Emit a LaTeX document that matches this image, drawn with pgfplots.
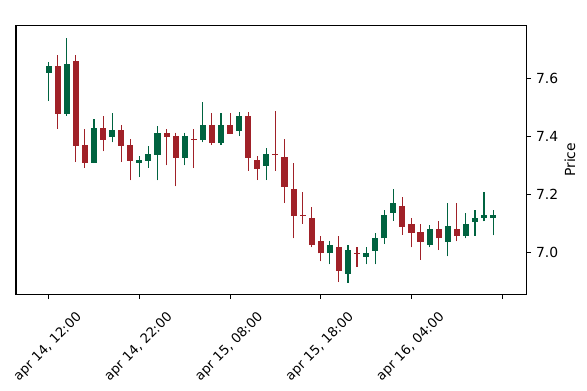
\documentclass[border=0pt]{standalone}
\usepackage{fontspec}
\setmainfont{DejaVu Sans}
\usepackage{pgfplots}
\pgfplotsset{compat=1.18}
\usepackage{pgfplotstable}
\definecolor{cup}{HTML}{006340}
\definecolor{cdn}{HTML}{A02128}

\pgfplotstableread{
i O H L C
0 7.621 7.659 7.523 7.644
2 7.479 7.743 7.472 7.652
5 7.310 7.460 7.309 7.429
7 7.399 7.481 7.380 7.424
10 7.310 7.329 7.260 7.320
11 7.317 7.369 7.293 7.340
12 7.338 7.437 7.249 7.412
15 7.328 7.411 7.301 7.402
17 7.388 7.521 7.380 7.440
19 7.378 7.481 7.371 7.440
21 7.420 7.481 7.402 7.472
24 7.300 7.360 7.250 7.339
31 6.996 7.028 6.958 7.027
33 6.925 7.025 6.894 7.007
35 6.985 7.017 6.958 6.998
36 7.005 7.068 6.958 7.049
37 7.048 7.148 7.028 7.128
38 7.137 7.218 7.109 7.170
42 7.027 7.091 7.017 7.081
44 7.036 7.170 6.986 7.091
46 7.058 7.137 7.048 7.098
47 7.106 7.148 7.058 7.118
48 7.118 7.207 7.107 7.129
49 7.118 7.148 7.059 7.129
}\uptab

\pgfplotstableread{
i O H L C
1 7.644 7.681 7.428 7.479
3 7.661 7.681 7.312 7.369
4 7.371 7.427 7.292 7.310
6 7.429 7.471 7.349 7.389
8 7.424 7.439 7.312 7.369
9 7.371 7.391 7.249 7.317
13 7.413 7.420 7.301 7.400
14 7.402 7.411 7.228 7.328
16 7.392 7.428 7.291 7.390
18 7.440 7.481 7.371 7.378
20 7.440 7.481 7.409 7.410
22 7.472 7.481 7.282 7.328
23 7.320 7.329 7.250 7.289
25 7.341 7.490 7.282 7.339
26 7.329 7.391 7.170 7.227
27 7.218 7.310 7.048 7.127
28 7.129 7.208 7.098 7.127
29 7.118 7.158 7.017 7.025
30 7.039 7.056 6.969 6.996
32 7.017 7.056 6.897 6.936
34 6.999 7.017 6.950 6.997
39 7.160 7.191 7.060 7.089
40 7.098 7.118 7.017 7.068
41 7.071 7.097 6.975 7.036
43 7.081 7.107 7.008 7.048
45 7.081 7.170 7.038 7.058
}\dntab

\begin{document}
\begin{tikzpicture}
\begin{axis}[
  scale only axis,
  width=367.4pt, height=193.7pt,
  xmin=-3.6, xmax=52.66,
  ymin=6.8547, ymax=7.7855,
  axis line style={line width=0.8pt},
  tick align=outside,
  major tick length=3.5pt,
  tick style={line width=0.8pt, black},
  xtick={0,10,20,30,40,50},
  xticklabels={{apr 14, 12:00},{apr 14, 22:00},{apr 15, 08:00},{apr 15, 18:00},{apr 16, 04:00},{}},
  xtick pos=lower,
  ytick pos=right,
  yticklabel pos=right,
  ytick={7.0,7.2,7.4,7.6},
  /pgf/number format/assume math mode=true,
  yticklabel style={/pgf/number format/.cd, fixed, fixed zerofill, precision=1},
  tick label style={font=\fontsize{10}{12}\selectfont},
  x tick label style={font=\fontsize{9.5}{11}\selectfont, yshift=-34.5pt, xshift=-0.5pt, rotate=45, anchor=center, inner sep=0pt},
  ylabel=Price,
  ylabel style={font=\fontsize{10}{12}\selectfont, at={(rel axis cs:1,0.5)}, anchor=center, yshift=-31.5pt},
  clip=true,
]
% wicks
\addplot[draw=none, mark=none, forget plot,
  error bars/.cd, y dir=plus, y explicit, error mark=none,
  error bar style={draw=cup, line width=0.8pt}]
  table[x=i, y=L, y error expr=\thisrow{H}-\thisrow{L}] {\uptab};
\addplot[draw=none, mark=none, forget plot,
  error bars/.cd, y dir=plus, y explicit, error mark=none,
  error bar style={draw=cdn, line width=0.8pt}]
  table[x=i, y=L, y error expr=\thisrow{H}-\thisrow{L}] {\dntab};
% bodies
\addplot[draw=none, mark=none, forget plot,
  error bars/.cd, y dir=plus, y explicit, error mark=-,
  error bar style={draw=cup, line width=4.4pt},
  error mark options={draw=cup, mark size=2.55pt, line width=0.7pt}]
  table[x=i, y=O, y error expr=\thisrow{C}-\thisrow{O}] {\uptab};
\addplot[draw=none, mark=none, forget plot,
  error bars/.cd, y dir=plus, y explicit, error mark=-,
  error bar style={draw=cdn, line width=4.4pt},
  error mark options={draw=cdn, mark size=2.55pt, line width=0.7pt}]
  table[x=i, y=C, y error expr=\thisrow{O}-\thisrow{C}] {\dntab};
\node[anchor=base east, inner sep=0pt, font=\fontsize{10}{12}\selectfont] at (rel axis cs:1,1) [yshift=3.8pt] {1e−6};
\end{axis}
\pgfresetboundingbox
\path[use as bounding box] (-11.52pt,-68.9pt) rectangle (411.1pt,211.9pt);
\end{tikzpicture}
\end{document}
